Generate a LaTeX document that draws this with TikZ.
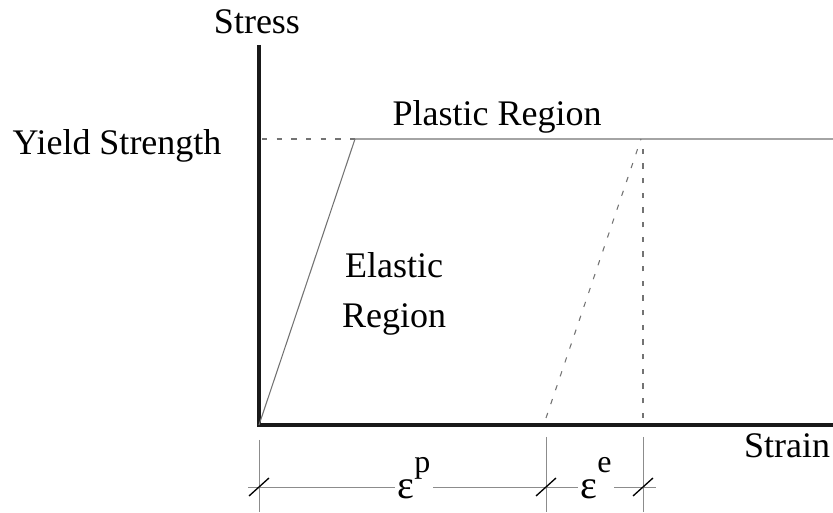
\documentclass[tikz,border=0pt]{standalone}
\usepackage{fontspec}
\setmainfont{Liberation Serif}
\usetikzlibrary{positioning}
\begin{document}
\begin{tikzpicture}[x=0.75pt, y=-0.75pt,
  every node/.style={font=\fontsize{27}{32}\selectfont, inner sep=0pt, align=center},
  axisline/.style={line width=3.6pt, black!90},
  thinline/.style={line width=0.8pt, black!55},
  dashline/.style={line width=0.8pt, black!55, dash pattern=on 4pt off 7pt},
  dimline/.style={line width=0.6pt, black!45},
  slash/.style={line width=1pt, black},
]
\useasboundingbox (0,0) rectangle (833,513);
% axes
\coordinate (O) at (259,425);
\coordinate (ytop) at (259,45);
\coordinate (xend) at (833,425);
\draw[axisline] (ytop) -- (O) -- (xend);
% curve
\coordinate (yl) at (262,139);
\coordinate (Y) at (355,139);
\coordinate (U) at (641,139);
\coordinate (pend) at (833,139);
\coordinate (P) at (546,418);
\coordinate (E) at (643,418);
\draw[dashline] (yl) -- (Y);
\draw[thinline] (O) -- (Y) -- (pend);
\draw[dashline] (P) -- (U);
\draw[dashline] (E) -- (643,141);
% dimension
\coordinate (d0) at (259,487);
\coordinate (d1) at (546,487);
\coordinate (d2) at (643,487);
\draw[dimline] (259,440) -- (259,512);
\draw[dimline] (546,437) -- (546,512);
\draw[dimline] (643,437) -- (643,512);
\draw[dimline] (248,487) -- (656,487);
\foreach \d in {d0,d1,d2}
  \draw[slash] ([shift={(-10,9)}]\d) -- ([shift={(10,-9)}]\d);
% labels
\node (stress) at (257,22) {Stress};
\node (yield) at (117,146) {Yield Strength};
\node (plastic) at (497,117) {Plastic Region};
\node (elastic) at (394,294) {Elastic\\[5pt]Region};
\node (strain) at (787,446) {Strain};
\node[fill=white, inner xsep=2pt] (ep) at (414,478) {\fontsize{30}{34}\selectfont ε\raisebox{0.65em}{\fontsize{24}{28}\selectfont p}};
\node[fill=white, inner xsep=2pt] (ee) at (596,478) {\fontsize{30}{34}\selectfont ε\raisebox{0.65em}{\fontsize{24}{28}\selectfont e}};
\end{tikzpicture}
\end{document}
